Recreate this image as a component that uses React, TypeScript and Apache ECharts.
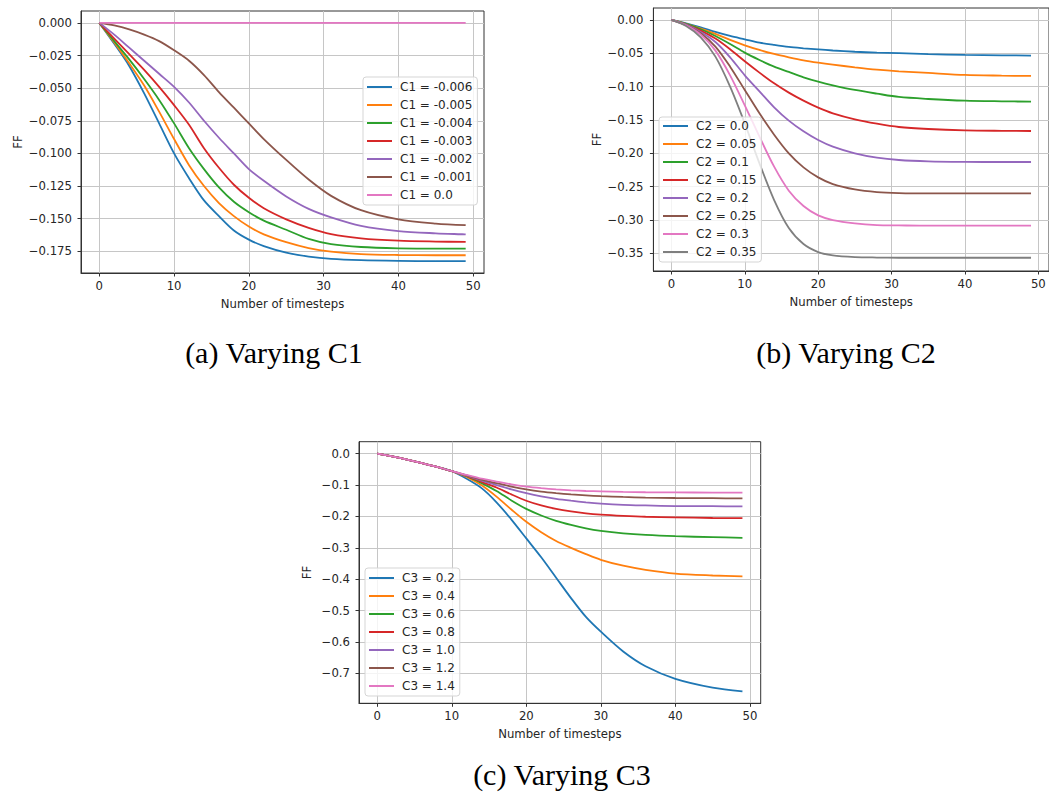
import React, { useEffect, useRef } from "react";
import * as echarts from "echarts";

// ---------- palette (matplotlib tab10) ----------
const COLORS = ["#1f77b4", "#ff7f0e", "#2ca02c", "#d62728", "#9467bd", "#8c564b", "#e377c2", "#7f7f7f"];

// ---------- (a) Varying C1 ----------
const stepsA = [0, 2, 4, 6, 8, 10, 12, 14, 16, 18, 20, 22, 25, 28, 31, 35, 40, 45, 49];
const namesA = ["C1 = -0.006", "C1 = -0.005", "C1 = -0.004", "C1 = -0.003", "C1 = -0.002", "C1 = -0.001", "C1 = 0.0"];
const a1 = [0, -0.016, -0.033, -0.054, -0.077, -0.1, -0.119, -0.136, -0.148, -0.159, -0.166, -0.171, -0.176, -0.179, -0.1808, -0.1818, -0.1823, -0.1825, -0.1825];
const a2 = [0, -0.015, -0.031, -0.048, -0.068, -0.089, -0.109, -0.125, -0.138, -0.148, -0.156, -0.162, -0.168, -0.1725, -0.1752, -0.1771, -0.1778, -0.178, -0.178];
const a3 = [0, -0.014, -0.028, -0.043, -0.059, -0.077, -0.096, -0.112, -0.126, -0.137, -0.145, -0.1515, -0.1585, -0.1655, -0.1695, -0.1717, -0.1727, -0.173, -0.173];
const a4 = [0, -0.012, -0.024, -0.036, -0.049, -0.063, -0.078, -0.096, -0.111, -0.124, -0.134, -0.142, -0.1505, -0.157, -0.1618, -0.165, -0.1668, -0.1675, -0.1678];
const a5 = [0, -0.009, -0.019, -0.029, -0.039, -0.049, -0.061, -0.075, -0.088, -0.1, -0.112, -0.121, -0.133, -0.1425, -0.149, -0.1555, -0.1595, -0.1612, -0.162];
const a6 = [0, -0.002, -0.005, -0.009, -0.014, -0.021, -0.029, -0.04, -0.053, -0.065, -0.077, -0.089, -0.105, -0.12, -0.1325, -0.1435, -0.1505, -0.1537, -0.155];
const a7 = [0, 0, 0, 0, 0, 0, 0, 0, 0, 0, 0, 0, 0, 0, 0, 0, 0, 0, 0];
const valuesA = [a1, a2, a3, a4, a5, a6, a7];

// ---------- (b) Varying C2 ----------
const stepsB = [0, 2, 4, 6, 8, 10, 12, 14, 16, 18, 20, 22, 25, 28, 31, 35, 40, 45, 49];
const namesB = ["C2 = 0.0", "C2 = 0.05", "C2 = 0.1", "C2 = 0.15", "C2 = 0.2", "C2 = 0.25", "C2 = 0.3", "C2 = 0.35"];
const b1 = [0, -0.005, -0.011, -0.018, -0.024, -0.029, -0.034, -0.0375, -0.0405, -0.0425, -0.0442, -0.0458, -0.0477, -0.049, -0.0498, -0.0512, -0.0525, -0.053, -0.0535];
const b2 = [0, -0.006, -0.013, -0.021, -0.03, -0.038, -0.045, -0.051, -0.056, -0.0605, -0.064, -0.067, -0.071, -0.0745, -0.077, -0.0795, -0.0825, -0.0835, -0.084];
const b3 = [0, -0.006, -0.014, -0.024, -0.036, -0.049, -0.06, -0.07, -0.078, -0.086, -0.0925, -0.098, -0.105, -0.1105, -0.1155, -0.1185, -0.121, -0.122, -0.1225];
const b4 = [0, -0.007, -0.016, -0.028, -0.044, -0.062, -0.079, -0.095, -0.109, -0.121, -0.1315, -0.14, -0.149, -0.1555, -0.1605, -0.1635, -0.1655, -0.1662, -0.1665];
const b5 = [0, -0.007, -0.018, -0.033, -0.056, -0.083, -0.107, -0.131, -0.151, -0.167, -0.18, -0.19, -0.2, -0.2065, -0.21, -0.212, -0.2128, -0.213, -0.213];
const b6 = [0, -0.008, -0.02, -0.04, -0.07, -0.105, -0.14, -0.172, -0.2, -0.221, -0.236, -0.246, -0.254, -0.258, -0.2595, -0.26, -0.26, -0.26, -0.26];
const b7 = [0, -0.008, -0.022, -0.046, -0.083, -0.128, -0.175, -0.22, -0.256, -0.279, -0.293, -0.3, -0.305, -0.3075, -0.308, -0.3085, -0.3085, -0.3085, -0.3085];
const b8 = [0, -0.009, -0.026, -0.055, -0.1, -0.155, -0.215, -0.27, -0.312, -0.336, -0.348, -0.353, -0.3555, -0.3562, -0.3565, -0.3565, -0.3565, -0.3565, -0.3565];
const valuesB = [b1, b2, b3, b4, b5, b6, b7, b8];

// ---------- (c) Varying C3 ----------
const stepsC = [0, 2, 4, 6, 8, 10, 12, 14, 16, 18, 20, 22, 24, 26, 28, 30, 33, 36, 40, 45, 49];
const namesC = ["C3 = 0.2", "C3 = 0.4", "C3 = 0.6", "C3 = 0.8", "C3 = 1.0", "C3 = 1.2", "C3 = 1.4"];
const c1 = [0, -0.009, -0.019, -0.03, -0.042, -0.056, -0.08, -0.11, -0.155, -0.21, -0.27, -0.33, -0.395, -0.46, -0.52, -0.567, -0.63, -0.677, -0.717, -0.745, -0.757];
const c2 = [0, -0.009, -0.019, -0.03, -0.042, -0.056, -0.074, -0.101, -0.137, -0.178, -0.217, -0.25, -0.278, -0.3, -0.32, -0.338, -0.357, -0.37, -0.382, -0.388, -0.391];
const c3 = [0, -0.009, -0.019, -0.03, -0.042, -0.056, -0.072, -0.094, -0.119, -0.149, -0.176, -0.197, -0.214, -0.227, -0.238, -0.246, -0.254, -0.259, -0.263, -0.266, -0.268];
const c4 = [0, -0.009, -0.019, -0.03, -0.042, -0.056, -0.071, -0.09, -0.108, -0.13, -0.15, -0.165, -0.176, -0.184, -0.19, -0.194, -0.198, -0.201, -0.203, -0.205, -0.2055];
const c5 = [0, -0.009, -0.019, -0.03, -0.042, -0.056, -0.07, -0.086, -0.1, -0.114, -0.126, -0.136, -0.144, -0.15, -0.155, -0.159, -0.163, -0.165, -0.167, -0.1675, -0.168];
const c6 = [0, -0.009, -0.019, -0.03, -0.042, -0.056, -0.069, -0.083, -0.094, -0.105, -0.114, -0.121, -0.126, -0.13, -0.133, -0.1355, -0.138, -0.14, -0.1413, -0.142, -0.1425];
const c7 = [0, -0.009, -0.019, -0.03, -0.042, -0.056, -0.068, -0.08, -0.089, -0.098, -0.105, -0.11, -0.114, -0.117, -0.119, -0.1203, -0.122, -0.123, -0.1235, -0.124, -0.1245];
const valuesC = [c1, c2, c3, c4, c5, c6, c7];

// ---------- tick labels ----------
const ticksX = [0, 10, 20, 30, 40, 50];
const ticksYA = [0, -0.025, -0.05, -0.075, -0.1, -0.125, -0.15, -0.175];
const ticksYB = [0, -0.05, -0.1, -0.15, -0.2, -0.25, -0.3, -0.35];
const ticksYC = [0, -0.1, -0.2, -0.3, -0.4, -0.5, -0.6, -0.7];

const captions = ["(a) Varying C1", "(b) Varying C2", "(c) Varying C3"];

const FONT = "DejaVu Sans";
const TXT = "#262626";

function fmt(v: number, dec: number) {
  const s = Math.abs(v).toFixed(dec);
  return (v < -1e-12 ? "\u2212" : "") + s;
}

function makeX(gridIndex: number, nameGap: number) {
  return {
    type: "value",
    gridIndex,
    min: -2.45,
    max: 51.45,
    minInterval: 10,
    maxInterval: 10,
    name: "Number of timesteps",
    nameLocation: "middle",
    nameGap,
    nameTextStyle: { fontFamily: FONT, fontSize: 11.7, color: TXT },
    axisLine: { show: true, onZero: false, lineStyle: { color: "#333", width: 1 } },
    axisTick: { show: true, length: 3.5, customValues: ticksX, lineStyle: { color: "#333", width: 1 } },
    axisLabel: {
      customValues: ticksX,
      margin: 7,
      fontFamily: FONT,
      fontSize: 11.7,
      color: TXT,
      formatter: (v: number) => (Math.abs(v / 10 - Math.round(v / 10)) < 1e-6 ? String(Math.round(v)) : ""),
    },
    splitLine: { show: true, lineStyle: { color: "#c6c6c6", width: 1 } },
  };
}

function makeY(gridIndex: number, min: number, max: number, step: number, dec: number, ticks: number[], nameGap: number, margin: number) {
  return {
    type: "value",
    gridIndex,
    min,
    max,
    minInterval: step,
    maxInterval: step,
    name: "FF",
    nameLocation: "middle",
    nameGap,
    nameRotate: 90,
    nameTextStyle: { fontFamily: FONT, fontSize: 11.7, color: TXT },
    axisLine: { show: true, onZero: false, lineStyle: { color: "#333", width: 1 } },
    axisTick: { show: true, length: 3.5, customValues: ticks, lineStyle: { color: "#333", width: 1 } },
    axisLabel: {
      customValues: ticks,
      margin,
      fontFamily: FONT,
      fontSize: 11.7,
      color: TXT,
      formatter: (v: number) => (Math.abs(v / step - Math.round(v / step)) < 1e-6 ? fmt(v, dec) : ""),
    },
    splitLine: { show: true, lineStyle: { color: "#c6c6c6", width: 1 } },
  };
}

function makeLegend(names: string[], left: number, top: number, pad: number[]) {
  return {
    orient: "vertical",
    left,
    top,
    data: names,
    icon: "path://M0 0H50V4H0Z",
    itemWidth: 25,
    itemHeight: 12,
    itemGap: 6,
    itemStyle: { borderWidth: 0 },
    padding: pad,
    backgroundColor: "rgba(255,255,255,0.8)",
    borderColor: "#d5d5d5",
    borderWidth: 1,
    borderRadius: 3,
    selectedMode: false,
    textStyle: { fontFamily: FONT, fontSize: 12, color: TXT, lineHeight: 12, padding: [0, 0, 0, 3] },
  };
}

function makeSeries(names: string[], steps: number[], values: number[][], gi: number) {
  return names.map((name, i) => ({
    type: "line",
    name,
    xAxisIndex: gi,
    yAxisIndex: gi,
    data: steps.map((t, k) => [t, values[i][k]]),
    symbol: "none",
    showSymbol: false,
    smooth: 0.3,
    color: COLORS[i],
    itemStyle: { color: COLORS[i] },
    lineStyle: { color: COLORS[i], width: 1.8 },
    emphasis: { disabled: true },
  }));
}

export default function App() {
  const ref = useRef<HTMLDivElement>(null);
  useEffect(() => {
    if (!ref.current) return;
    const chart = echarts.init(ref.current, undefined, { renderer: "svg" });
    const capStyle = { fontFamily: "Liberation Serif", fontSize: 30, fill: "#000", align: "center", verticalAlign: "middle" };
    const option: any = {
      animation: false,
      backgroundColor: "#ffffff",
      grid: [
        { left: 81, top: 11, width: 403, height: 262, show: true, borderColor: "#333", borderWidth: 1, backgroundColor: "transparent" },
        { left: 653.4, top: 8, width: 403.2, height: 263, show: true, borderColor: "#333", borderWidth: 1, backgroundColor: "transparent" },
        { left: 359, top: 441.7, width: 401.7, height: 261.6, show: true, borderColor: "#333", borderWidth: 1, backgroundColor: "transparent" },
      ],
      xAxis: [makeX(0, 24.5), makeX(1, 24.5), makeX(2, 24.5)],
      yAxis: [
        makeY(0, -0.1916, 0.0091, 0.025, 3, ticksYA, 57, 9),
        makeY(1, -0.3764, 0.0179, 0.05, 2, ticksYB, 50, 10),
        makeY(2, -0.7949, 0.0379, 0.1, 1, ticksYC, 46, 9),
      ],
      legend: [
        makeLegend(namesA, 363, 77, [4, 5, 4, 4]),
        makeLegend(namesB, 659, 117, [3, 5, 4, 4]),
        makeLegend(namesC, 365, 568, [4, 5, 4, 4]),
      ],
      series: [
        ...makeSeries(namesA, stepsA, valuesA, 0),
        ...makeSeries(namesB, stepsB, valuesB, 1),
        ...makeSeries(namesC, stepsC, valuesC, 2),
      ],
      graphic: [
        { type: "text", x: 274, y: 352, style: { ...capStyle, text: captions[0] } },
        { type: "text", x: 846, y: 352, style: { ...capStyle, text: captions[1] } },
        { type: "text", x: 562, y: 774, style: { ...capStyle, text: captions[2] } },
      ],
    };
    chart.setOption(option);
    return () => chart.dispose();
  }, []);
  return (
    <div
      ref={ref}
      style={{ position: "fixed", left: 0, top: 0, width: 1049, height: 800, background: "#fff" }}
    />
  );
}
